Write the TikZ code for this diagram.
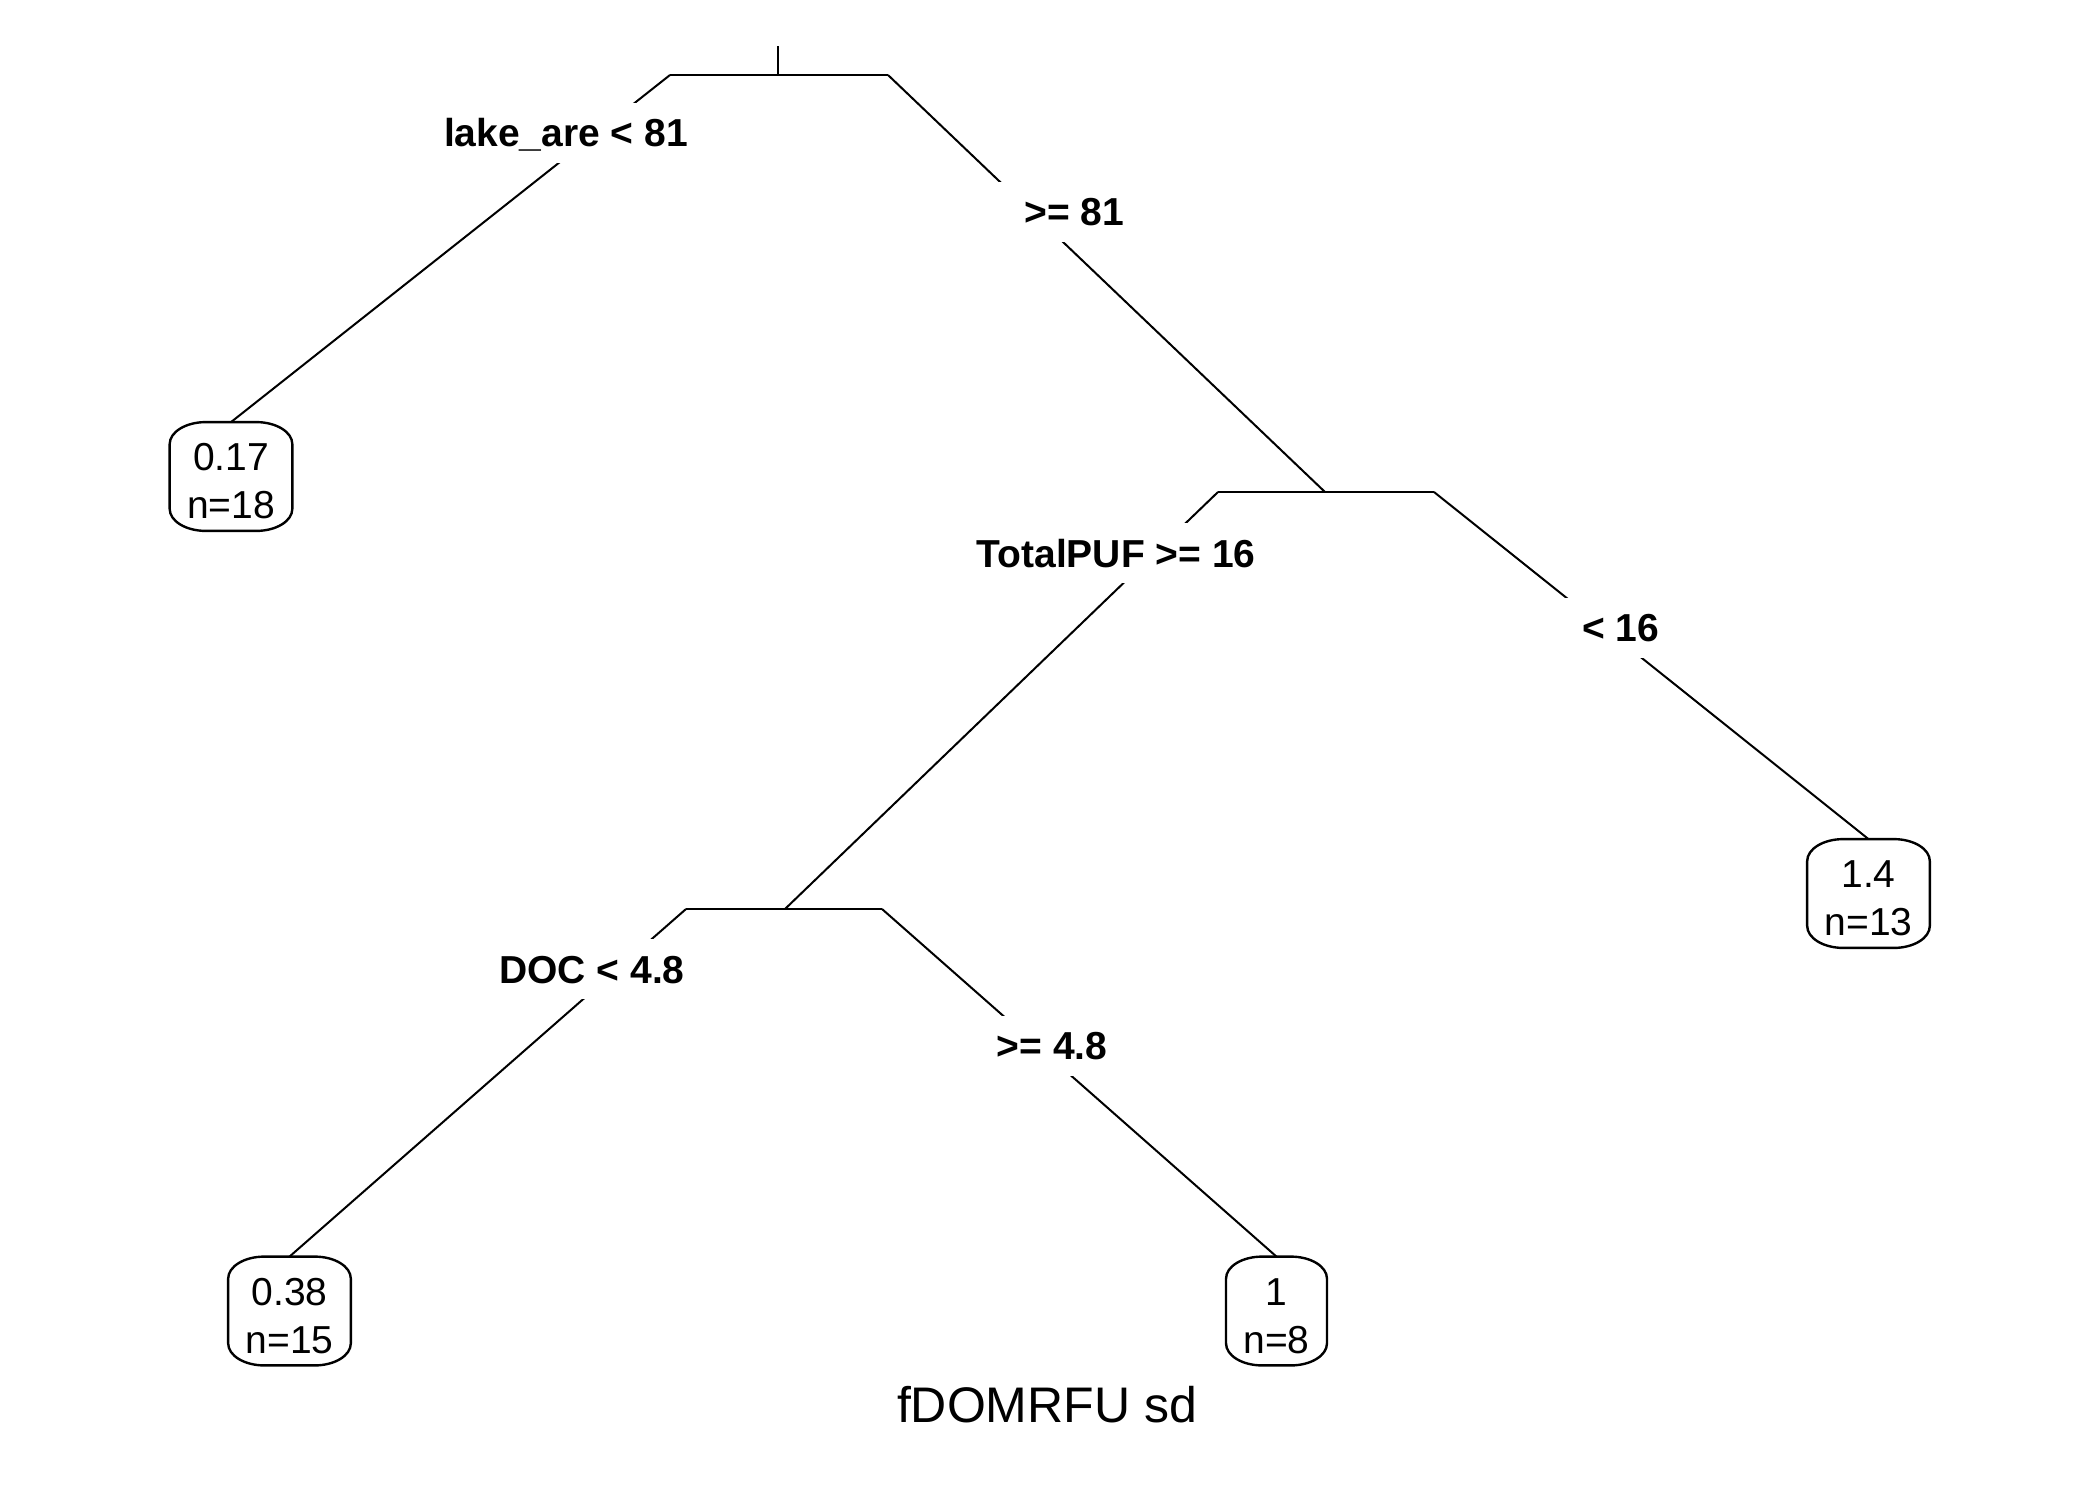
\documentclass[tikz,border=0pt]{standalone}
\usepackage{fontspec}
\setmainfont{Liberation Sans}
\begin{document}
\begin{tikzpicture}[x=0.5pt,y=-0.5pt,
  edge/.style={line width=1pt},
  split/.style={font=\bfseries\fontsize{19.5pt}{24pt}\selectfont, fill=white,
    inner xsep=14pt, inner ysep=8pt, text height=14pt, text depth=0pt},
  leaf/.style={font=\fontsize{19.5pt}{24pt}\selectfont, align=center,
    inner xsep=8.5pt, inner ysep=0pt, minimum height=54pt,
    text height=42pt, text depth=0pt},
  leafbox/.style={line width=1.2pt}
]
\useasboundingbox (0,0) rectangle (2100,1500);

% split points of the tree
\coordinate (r)   at (778,46);
\coordinate (s1)  at (778,75);
\coordinate (s1l) at (670,75);
\coordinate (s1r) at (888,75);
\coordinate (s2)  at (1325,492);
\coordinate (s2l) at (1218,492);
\coordinate (s2r) at (1434,492);
\coordinate (s3)  at (785,909);
\coordinate (s3l) at (686,909);
\coordinate (s3r) at (882,909);

% terminal nodes
\node[leaf] (l1) at (231,476.5)   {0.17\\n=18};
\node[leaf] (l2) at (1868.5,893.5) {1.4\\n=13};
\node[leaf] (l3) at (289.5,1311)  {0.38\\n=15};
\node[leaf] (l4) at (1276.5,1311) {1\\n=8};

% branches
\draw[edge] (r) -- (s1);
\draw[edge] (s1l) -- (s1r);
\draw[edge] (s1l) -- (l1.north);
\draw[edge] (s1r) -- (s2);
\draw[edge] (s2l) -- (s2r);
\draw[edge] (s2r) -- (l2.north);
\draw[edge] (s2l) -- (s3);
\draw[edge] (s3l) -- (s3r);
\draw[edge] (s3l) -- (l3.north);
\draw[edge] (s3r) -- (l4.north);

% split labels
\node[split] (t1) at (566,132.5)  {lake\_are < 81};
\node[split] (t2) at (1074.5,211.5) {>= 81};
\node[split] (t3) at (1116,553)   {TotalPUF >= 16};
\node[split] (t4) at (1620.5,627.5) {< 16};
\node[split] (t5) at (592,969)    {DOC < 4.8};
\node[split] (t6) at (1052,1045.5) {>= 4.8};

% rounded frames of the terminal nodes
\foreach \n in {l1,l2,l3,l4}{
  \draw[leafbox] ([xshift=18pt]\n.north west) -- ([xshift=-18pt]\n.north east)
    arc[start angle=90,end angle=0,x radius=18pt,y radius=11pt]
    -- ([yshift=11pt]\n.south east)
    arc[start angle=0,end angle=-90,x radius=18pt,y radius=11pt]
    -- ([xshift=18pt]\n.south west)
    arc[start angle=270,end angle=180,x radius=18pt,y radius=11pt]
    -- ([yshift=-11pt]\n.north west)
    arc[start angle=180,end angle=90,x radius=18pt,y radius=11pt] -- cycle;
}

% title
\node[font=\fontsize{25pt}{30pt}\selectfont, anchor=base] (title) at (1047,1422) {fDOMRFU sd};
\end{tikzpicture}
\end{document}
